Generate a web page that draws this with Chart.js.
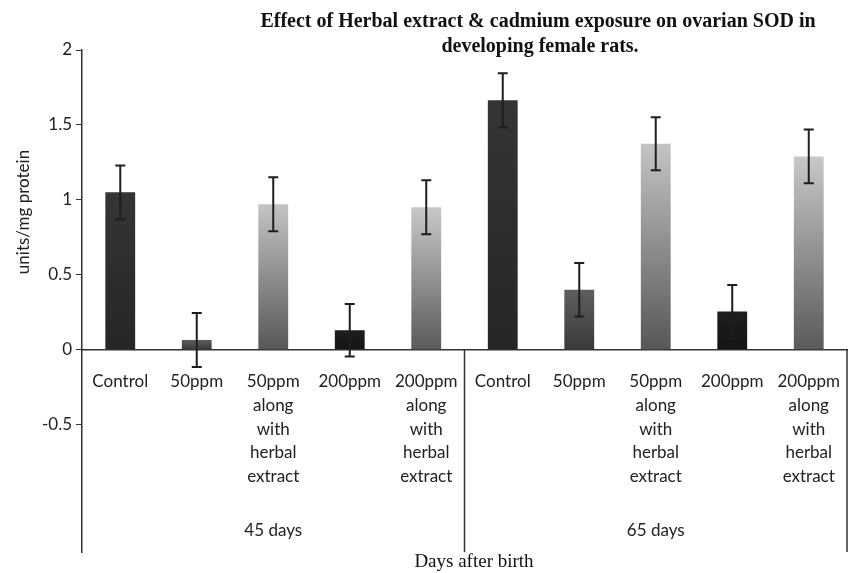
<!DOCTYPE html>
<html>
<head>
<meta charset="utf-8">
<script src="https://cdn.jsdelivr.net/npm/chart.js@4"></script>
<style>
  body { margin: 0; background: #fff; }
</style>
</head>
<body>
<canvas id="myChart" width="849" height="573"></canvas>
<script>
// treatments inside each age group
const treatments = ['Control', '50ppm', ['50ppm', 'along', 'with', 'herbal', 'extract'], '200ppm', ['200ppm', 'along', 'with', 'herbal', 'extract']];
const groups = ['45 days', '65 days'];
const labels = groups.flatMap(() => treatments);

// SOD units/mg protein, mean and error
const sod = [1.05, 0.065, 0.97, 0.13, 0.95, 1.665, 0.40, 1.375, 0.255, 1.29];
const sodErr = [0.18, 0.18, 0.18, 0.175, 0.18, 0.18, 0.178, 0.177, 0.176, 0.18];

const yTicks = [-0.5, 0, 0.5, 1, 1.5, 2];

// gradient top / bottom per treatment
const shades = [
  ['#353535', '#262626'],
  ['#5e5e5e', '#3a3a3a'],
  ['#c4c4c4', '#575757'],
  ['#1e1e1e', '#141414'],
  ['#c8c8c8', '#5a5a5a']
];

const extras = {
  id: 'extras',
  afterDatasetsDraw(chart) {
    const { ctx, chartArea, scales: { x, y } } = chart;
    const meta = chart.getDatasetMeta(0);
    ctx.save();
    // error bars
    ctx.strokeStyle = '#1e1e1e';
    ctx.lineWidth = 2;
    meta.data.forEach((bar, i) => {
      const top = y.getPixelForValue(sod[i] + sodErr[i]);
      const bot = y.getPixelForValue(sod[i] - sodErr[i]);
      ctx.beginPath();
      ctx.moveTo(bar.x, top); ctx.lineTo(bar.x, bot);
      ctx.moveTo(bar.x - 5, top); ctx.lineTo(bar.x + 5, top);
      ctx.moveTo(bar.x - 5, bot); ctx.lineTo(bar.x + 5, bot);
      ctx.stroke();
    });
    // group separators
    const zero = y.getPixelForValue(0);
    const n = treatments.length;
    ctx.strokeStyle = '#333';
    ctx.lineWidth = 1.5;
    ctx.beginPath();
    const sep = (x.getPixelForValue(n - 1) + x.getPixelForValue(n)) / 2;
    ctx.moveTo(sep, zero); ctx.lineTo(sep, chartArea.bottom);
    ctx.moveTo(chartArea.right, zero); ctx.lineTo(chartArea.right, chartArea.bottom);
    ctx.stroke();
    // group labels
    ctx.fillStyle = '#222';
    ctx.font = '17px Lato';
    ctx.textAlign = 'center';
    ctx.textBaseline = 'middle';
    groups.forEach((g, k) => {
      ctx.fillText(g, x.getPixelForValue(k * n + 2), 531);
    });
    // y title
    ctx.save();
    ctx.translate(24, 212);
    ctx.rotate(-Math.PI / 2);
    ctx.font = '17px Lato';
    ctx.fillText('units/mg protein', 0, 0);
    ctx.restore();
    // x title + chart title
    ctx.fillStyle = '#111';
    ctx.font = '19px "Liberation Serif"';
    ctx.fillText('Days after birth', 474, 562);
    ctx.font = 'bold 20px "Liberation Serif"';
    ctx.fillText('Effect of Herbal extract & cadmium exposure on ovarian SOD in', 538, 22);
    ctx.fillText('developing female rats.', 540, 47);
    ctx.restore();
  }
};

new Chart(document.getElementById('myChart').getContext('2d'), {
  type: 'bar',
  data: {
    labels: labels,
    datasets: [{
      data: sod,
      barPercentage: 0.39,
      categoryPercentage: 1,
      backgroundColor(c) {
        const { chartArea, scales } = c.chart;
        const s = shades[c.dataIndex % 5];
        if (!chartArea) return s[0];
        const g = c.chart.ctx.createLinearGradient(0, scales.y.getPixelForValue(c.raw), 0, scales.y.getPixelForValue(0));
        g.addColorStop(0, s[0]);
        g.addColorStop(1, s[1]);
        return g;
      }
    }]
  },
  options: {
    responsive: false,
    animation: false,
    layout: { padding: { top: 50, bottom: 21, left: 0, right: 2 } },
    plugins: { legend: { display: false }, tooltip: { enabled: false } },
    scales: {
      x: {
        position: { y: 0 },
        afterFit(s) { s.height = 0; s.paddingLeft = 0; s.paddingRight = 0; },
        grid: { drawOnChartArea: false, drawTicks: false },
        border: { color: '#333', width: 1.5 },
        ticks: {
          color: '#222',
          font: { family: 'Lato', size: 17, lineHeight: 1.4 },
          padding: 20,
          maxRotation: 0,
          autoSkip: false
        }
      },
      y: {
        min: -1.35,
        max: 2,
        afterFit(s) { s.width = 82; },
        afterBuildTicks(s) { s.ticks = yTicks.map(v => ({ value: v })); },
        grid: { drawOnChartArea: false, tickLength: 6, color: '#333' },
        border: { color: '#333', width: 1.5 },
        ticks: {
          color: '#222',
          font: { family: 'Lato', size: 17 },
          padding: 4,
          callback: v => String(v)
        }
      }
    }
  },
  plugins: [extras]
});
</script>
</body>
</html>
